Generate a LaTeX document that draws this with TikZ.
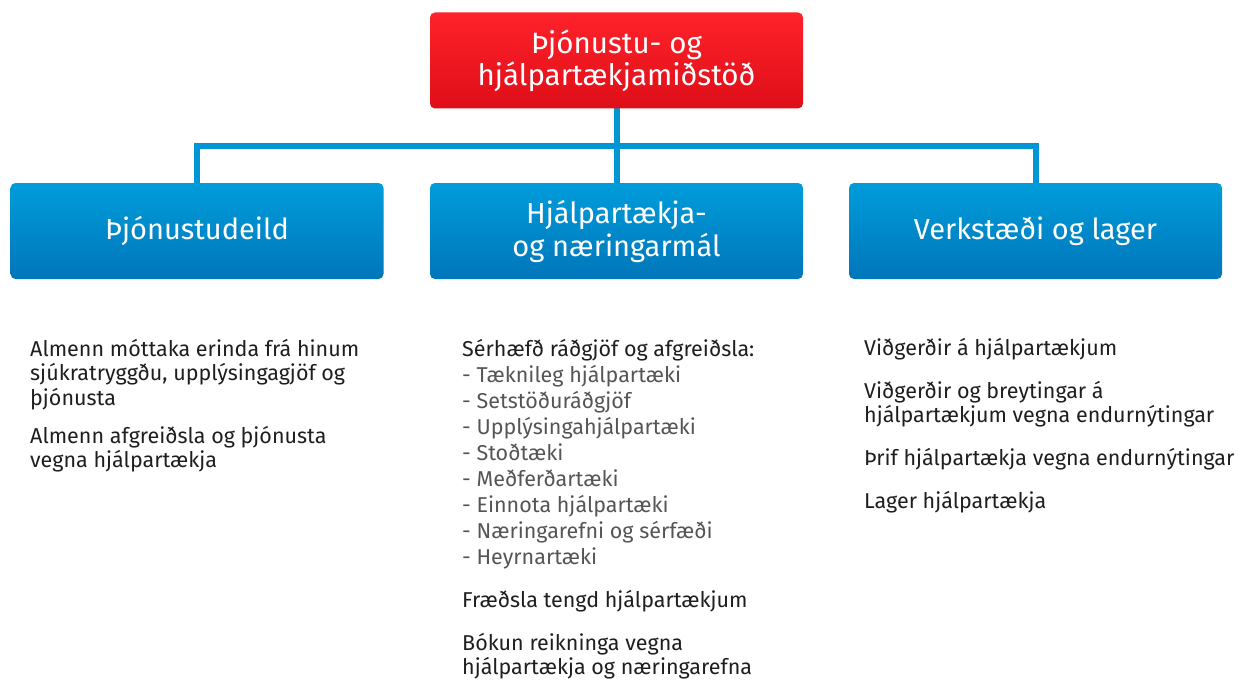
\documentclass[tikz,border=0pt]{standalone}
\usepackage{fontspec}
\setmainfont{Fira Sans}
\usetikzlibrary{positioning}

\definecolor{redtop}{RGB}{255,34,42}
\definecolor{redbot}{RGB}{222,14,24}
\definecolor{bluetop}{RGB}{0,156,218}
\definecolor{bluebot}{RGB}{0,118,186}
\definecolor{linkblue}{RGB}{0,150,214}
\definecolor{textdark}{RGB}{30,30,30}
\definecolor{textgrey}{RGB}{85,85,85}

\begin{document}
\begin{tikzpicture}[x=1pt,y=-1pt]

\tikzset{box/.style = {shape=rectangle, rounded corners=5pt, minimum width=373pt,
    minimum height=96pt, inner sep=0pt, align=center, text=white,
    font=\fontsize{29}{33}\selectfont}}
\tikzset{topbox/.style = {box, top color=redtop, bottom color=redbot,
    font=\fontsize{29.5}{32}\selectfont}}
\tikzset{unitbox/.style = {box, top color=bluetop, bottom color=bluebot}}
\tikzset{link/.style = {draw=linkblue, line width=6.5pt}}
\tikzset{txt/.style = {anchor=base west, inner sep=0pt, align=left, text=textdark,
    font=\fontsize{21.5}{24.5}\selectfont}}
\tikzset{sub/.style = {txt, text=textgrey, font=\fontsize{21.5}{26}\selectfont}}

\useasboundingbox (0,0) rectangle (1239,682);

% links
\coordinate (j) at (617,146);
\coordinate (jl) at (197,146);
\coordinate (jr) at (1036,146);
\draw[link] (617,100) -- (j);
\draw[link] (197,190) -- (jl) -- (jr) -- (1036,190);
\draw[link] (j) -- (617,190);

% boxes
\node[topbox] (hq) at (616.5,60.5) {Þjónustu- og\\hjálpartækjamiðstöð};
\node[unitbox] (d1) at (197,231) {Þjónustudeild};
\node[unitbox] (d2) at (616.5,231) {Hjálpartækja-\\og næringarmál};
\node[unitbox] (d3) at (1035.5,231) {Verkstæði og lager};

% column 1 (anchors at the last line)
\node[txt] (a1) at (30,405) {Almenn móttaka erinda frá hinum\\sjúkratryggðu, upplýsingagjöf og\\þjónusta};
\node[txt] (a2) at (30,467.5) {Almenn afgreiðsla og þjónusta\\vegna hjálpartækja};

% column 2
\node[txt] (b1) at (462,356) {Sérhæfð ráðgjöf og afgreiðsla:};
\node[sub] (b2) at (462,564) {- Tæknileg hjálpartæki\\- Setstöðuráðgjöf\\- Upplýsingahjálpartæki\\- Stoðtæki\\- Meðferðartæki\\- Einnota hjálpartæki\\- Næringarefni og sérfæði\\- Heyrnartæki};
\node[txt] (b3) at (462,607) {Fræðsla tengd hjálpartækjum};
\node[txt] (b4) at (462,674.5) {Bókun reikninga vegna\\hjálpartækja og næringarefna};

% column 3
\node[txt] (c1) at (864,355) {Viðgerðir á hjálpartækjum};
\node[txt] (c2) at (864,422.5) {Viðgerðir og breytingar á\\hjálpartækjum vegna endurnýtingar};
\node[txt] (c3) at (864,465) {Þrif hjálpartækja vegna endurnýtingar};
\node[txt] (c4) at (864,508) {Lager hjálpartækja};

\end{tikzpicture}
\end{document}
